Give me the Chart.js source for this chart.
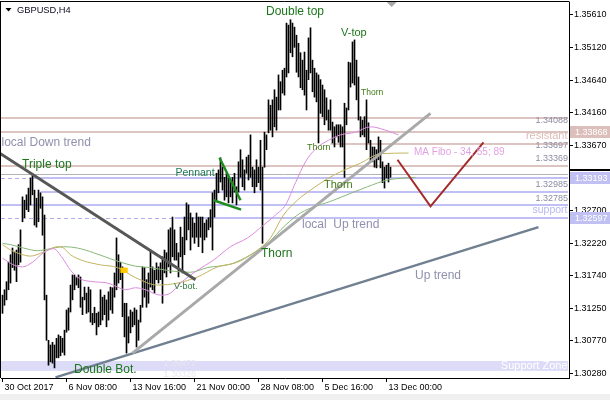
<!DOCTYPE html>
<html><head><meta charset="utf-8">
<script src="https://cdn.jsdelivr.net/npm/chart.js@4/dist/chart.umd.min.js"></script>
<style>html,body{margin:0;padding:0;background:#fff;}canvas{display:block;}</style>
</head><body>
<canvas id="c" width="610" height="400"></canvas>
<script>
// ---------- DATA (GBPUSD H4, bar index 0 = 30 Oct 2017 00:00) ----------
const highs = [1.3145,1.3153,1.3165,1.3194,1.3205,1.3215,1.3209,1.3212,1.3220,1.3242,
1.3291,1.3286,1.3294,1.3304,1.3319,1.3323,1.3301,1.3289,1.3301,1.3297,
1.3291,1.3264,1.3145,1.3078,1.3071,1.3075,1.3071,1.3081,1.3086,1.3084,
1.3081,1.3093,1.3123,1.3126,1.3160,1.3175,1.3175,1.3171,1.3175,1.3172,
1.3142,1.3157,1.3148,1.3157,1.3153,1.3118,1.3127,1.3118,1.3120,1.3153,
1.3142,1.3145,1.3138,1.3150,1.3157,1.3156,1.3178,1.3230,1.3205,1.3194,
1.3187,1.3133,1.3133,1.3113,1.3123,1.3120,1.3126,1.3123,1.3108,1.3130,
1.3187,1.3186,1.3168,1.3178,1.3212,1.3187,1.3182,1.3193,1.3187,1.3193,
1.3202,1.3212,1.3208,1.3242,1.3245,1.3261,1.3242,1.3222,1.3208,1.3246,
1.3231,1.3261,1.3282,1.3279,1.3267,1.3260,1.3252,1.3267,1.3261,1.3261,
1.3261,1.3252,1.3257,1.3260,1.3272,1.3297,1.3301,1.3326,1.3331,1.3349,
1.3335,1.3320,1.3326,1.3319,1.3316,1.3320,1.3326,1.3306,1.3343,1.3361,
1.3346,1.3331,1.3350,1.3353,1.3383,1.3335,1.3331,1.3346,1.3335,1.3375,
1.3335,1.3387,1.3383,1.3435,1.3427,1.3435,1.3450,1.3439,1.3472,1.3462,
1.3479,1.3482,1.3549,1.3546,1.3554,1.3549,1.3543,1.3531,1.3519,1.3505,
1.3494,1.3506,1.3479,1.3527,1.3542,1.3494,1.3482,1.3475,1.3472,1.3465,
1.3457,1.3450,1.3438,1.3420,1.3435,1.3402,1.3395,1.3398,1.3398,1.3398,
1.3395,1.3430,1.3423,1.3491,1.3490,1.3521,1.3524,1.3494,1.3469,1.3410,
1.3405,1.3410,1.3435,1.3401,1.3375,1.3365,1.3365,1.3361,1.3380,1.3375,
1.3343,1.3335,1.3338,1.3341,1.3335];
const lows = [1.3118,1.3130,1.3138,1.3153,1.3163,1.3186,1.3182,1.3165,1.3190,1.3194,
1.3254,1.3260,1.3272,1.3269,1.3279,1.3294,1.3249,1.3246,1.3254,1.3274,
1.3234,1.3138,1.3078,1.3041,1.3046,1.3044,1.3037,1.3052,1.3052,1.3055,
1.3060,1.3056,1.3090,1.3093,1.3120,1.3138,1.3153,1.3160,1.3156,1.3127,
1.3116,1.3138,1.3118,1.3120,1.3105,1.3101,1.3104,1.3086,1.3098,1.3101,
1.3108,1.3116,1.3098,1.3108,1.3123,1.3118,1.3142,1.3153,1.3163,1.3168,
1.3113,1.3083,1.3059,1.3074,1.3089,1.3098,1.3101,1.3068,1.3078,1.3105,
1.3127,1.3142,1.3127,1.3133,1.3157,1.3153,1.3148,1.3168,1.3163,1.3168,
1.3133,1.3178,1.3172,1.3187,1.3178,1.3202,1.3197,1.3197,1.3172,1.3202,
1.3178,1.3205,1.3227,1.3242,1.3212,1.3231,1.3222,1.3231,1.3217,1.3231,
1.3208,1.3227,1.3231,1.3242,1.3246,1.3212,1.3261,1.3286,1.3297,1.3313,
1.3301,1.3286,1.3291,1.3282,1.3291,1.3282,1.3298,1.3279,1.3298,1.3320,
1.3306,1.3301,1.3326,1.3316,1.3320,1.3306,1.3297,1.3306,1.3312,1.3301,
1.3222,1.3335,1.3361,1.3386,1.3390,1.3380,1.3395,1.3390,1.3420,1.3420,
1.3445,1.3442,1.3469,1.3475,1.3505,1.3499,1.3513,1.3476,1.3469,1.3453,
1.3450,1.3442,1.3420,1.3465,1.3475,1.3447,1.3439,1.3432,1.3371,1.3415,
1.3410,1.3398,1.3405,1.3390,1.3390,1.3371,1.3365,1.3380,1.3372,1.3365,
1.3365,1.3320,1.3398,1.3420,1.3454,1.3460,1.3457,1.3435,1.3405,1.3380,
1.3383,1.3380,1.3361,1.3371,1.3343,1.3343,1.3335,1.3334,1.3346,1.3334,
1.3312,1.3304,1.3319,1.3313,1.3320];

// Moving averages (MA Fibo 34, 55, 89): [bar index, price]
const ma34 = [[0,1.3200],[5.5,1.3190],[10,1.3187],[15,1.3194],[20.5,1.3208],[25.5,1.3214],[30,1.3200],[34,1.3182],[39,1.3169],[45.5,1.3165],[52.5,1.3163],[57.5,1.3157],[61.5,1.3153],[66.5,1.3156],[71.5,1.3153],[79,1.3145],[84,1.3148],[89,1.3163],[97.5,1.3182],[105.5,1.3197],[114,1.3217],[122.5,1.3230],[130.5,1.3249],[136.5,1.3264],[141.5,1.3279],[146.5,1.3312],[151.5,1.3343],[156.5,1.3362],[163,1.3375],[169,1.3383],[176.5,1.3387],[184,1.3395],[191.5,1.3390],[198,1.3383]];
const ma55 = [[0,1.3220],[4,1.3212],[9,1.3206],[14,1.3203],[20.5,1.3209],[27.5,1.3217],[30.5,1.3215],[34,1.3205],[40.5,1.3196],[49,1.3190],[57.5,1.3186],[66.5,1.3171],[77.5,1.3160],[87.5,1.3163],[97.5,1.3172],[107.5,1.3187],[117.5,1.3194],[127.5,1.3212],[134,1.3230],[140.5,1.3264],[147.5,1.3286],[154,1.3301],[165.5,1.3323],[179,1.3341],[189,1.3355],[203,1.3356]];
const ma89 = [[0,1.3222],[4,1.3220],[10.5,1.3215],[17.5,1.3211],[24,1.3214],[30.5,1.3217],[37.5,1.3215],[45.5,1.3208],[54,1.3199],[59,1.3194],[66.5,1.3188],[74,1.3186],[84,1.3181],[94,1.3179],[102.5,1.3186],[114,1.3191],[124,1.3205],[132.5,1.3222],[141.5,1.3249],[149,1.3267],[165.5,1.3286],[182.5,1.3306],[192.5,1.3316],[206.5,1.3320]];

// Trend lines and drawings: [bar index, price]
const downTrend = [[-1,1.3355],[96.5,1.3168]];
const localUpTrend = [[65,1.3059],[214,1.3415]];
const upTrend = [[26.5,1.3023],[268,1.3246]];
const pennantTop = [[108.5,1.3349],[119,1.3286]];
const pennantBottom = [[105.5,1.3286],[119.3,1.3272]];
const forecast = [[197.5,1.3346],[214,1.3277],[240.5,1.3372]];

// Horizontal levels
const resistLevels = [1.34088, 1.33868, 1.33697, 1.33369];
const supportLevels = [1.33193, 1.32985, 1.32785, 1.32597];
const supportZone = [1.30326, 1.30472];
const bidPrice = 1.3325;
const lastPrice = 1.3331;

// Axis ticks
const yTicks = [1.35610,1.35120,1.34640,1.34160,1.33670,1.33190,1.32700,1.32220,1.31740,1.31250,1.30770,1.30280];
const xTickIdx = [0,32,64,96,128,160,192];
const xLabels = ['30 Oct 2017','6 Nov 08:00','13 Nov 16:00','21 Nov 00:00','28 Nov 08:00','5 Dec 16:00','13 Dec 00:00'];

// ---------- STYLE / LAYOUT ----------
const FONT = '"Liberation Sans", Arial, sans-serif';
const GREEN = '#1c761c';
const OLIVE = '#3f7a12';
const TREND_TXT = '#9090ae';
const resistStart = [-1, -1, 164, -1];
const supportSolidStart = [14, 19, -1, 86];
const supportDashed = [true, false, false, true];
const axisBoxes = [[1.33868,'#dcbfba'],[1.33193,'#c0c0f2'],[1.32597,'#c0c0f2']];
const notes = [
  ['Double top', 131.75, 1.35655, GREEN, 12, 'left'],
  ['V-top', 169.25, 1.35343, GREEN, 11, 'left'],
  ['Thorn', 179.25, 1.34452, OLIVE, 8.5, 'left'],
  ['Thorn', 152.25, 1.33635, OLIVE, 9, 'left'],
  ['Thorn', 160.75, 1.33086, OLIVE, 11, 'left'],
  ['Thorn', 129.25, 1.32061, GREEN, 12, 'left'],
  ['Pennant', 86.5, 1.33264, '#1d7a55', 10.5, 'left'],
  ['Triple top', 9.75, 1.33383, GREEN, 12, 'left'],
  ['local Down trend', -0.5, 1.33709, TREND_TXT, 12, 'left'],
  ['local  Up trend', 149.75, 1.32492, TREND_TXT, 12, 'left'],
  ['Up trend', 206.25, 1.31742, TREND_TXT, 12, 'left'],
  ['V-bot.', 85.75, 1.31571, '#2f7a3a', 9, 'left'],
  ['Double Bot.', 35.75, 1.30339, GREEN, 12, 'left'],
  ['MA Fibo - 34, 55; 89', 205.75, 1.33576, '#e2a2e2', 10, 'left'],
  ['resistant', 282.5, 1.33818, '#dcbcb8', 11, 'right'],
  ['support', 282.5, 1.32715, '#b8b8f0', 10.5, 'right'],
  ['1.34088', 282.75, 1.34036, '#8c8ca2', 9, 'right'],
  ['1.33697', 282.75, 1.33669, '#8c8ca2', 9, 'right'],
  ['1.33369', 282.75, 1.33482, '#8c8ca2', 9, 'right'],
  ['1.32985', 282.75, 1.33090, '#8c8ca2', 9, 'right'],
  ['1.32785', 282.75, 1.32888, '#8c8ca2', 9, 'right'],
  ['Support Zone', 282.5, 1.30398, '#ffffff', 11, 'right'],
  ['1.30472', 96.75, 1.30428, '#e6e6ee', 9, 'right'],
  ['1.30326', 96.75, 1.30279, '#e6e6ee', 9, 'right']
];

const pts = a => a.map(([x, y]) => ({x, y}));
const bars = highs.map((h, i) => ({x: i, y: [lows[i], h]}));
const lineDs = (arr, color, w, order, smooth) => ({
  type: 'line', data: pts(arr), borderColor: color, borderWidth: w, pointRadius: 0,
  fill: false, order, cubicInterpolationMode: smooth ? 'monotone' : 'default', tension: 0
});

const annot = {
  id: 'annot',
  beforeDatasetsDraw(chart) {
    const {ctx, chartArea: a, scales: {x, y}} = chart;
    ctx.save();
    ctx.beginPath(); ctx.rect(a.left, a.top, a.width, a.height); ctx.clip();
    // support zone
    const zt = y.getPixelForValue(supportZone[1]), zb = y.getPixelForValue(supportZone[0]);
    ctx.fillStyle = '#dcdcf8';
    ctx.fillRect(a.left, zt, a.right - 1 - a.left, zb - zt);
    const hline = (v, x0, x1, color, w, dash) => {
      const py = Math.round(y.getPixelForValue(v)) + (w % 2 ? 0.5 : 0);
      ctx.strokeStyle = color; ctx.lineWidth = w; ctx.setLineDash(dash || []);
      ctx.beginPath(); ctx.moveTo(x0, py); ctx.lineTo(x1, py); ctx.stroke();
    };
    const R = a.right - 1;
    resistLevels.forEach((v, k) => {
      const x0 = resistStart[k] < 0 ? a.left : x.getPixelForValue(resistStart[k]);
      hline(v, x0, R, '#dcc4c0', 2);
    });
    hline(bidPrice, a.left, R, '#b4b4b4', 1);
    supportLevels.forEach((v, k) => {
      const s = supportSolidStart[k];
      const x0 = s < 0 ? a.left : x.getPixelForValue(s);
      if (supportDashed[k]) hline(v, a.left, x0, '#aeaef0', 1, [4, 3]);
      hline(v, x0, R, '#c0c0f4', 2);
    });
    ctx.setLineDash([]);
    ctx.restore();
  },
  afterDatasetsDraw(chart) {
    const {ctx, chartArea: a, scales: {x, y}} = chart;
    ctx.save();
    // yellow marker
    ctx.fillStyle = '#ffc800';
    const mx0 = x.getPixelForValue(58.9), mx1 = x.getPixelForValue(62.6);
    const my0 = y.getPixelForValue(1.3186), my1 = y.getPixelForValue(1.3178);
    ctx.fillRect(mx0, my0, mx1 - mx0, my1 - my0);
    // notes
    ctx.textBaseline = 'middle';
    notes.forEach(([t, i, p, c, s, al]) => {
      ctx.font = s + 'px ' + FONT;
      ctx.fillStyle = c; ctx.textAlign = al;
      ctx.fillText(t, x.getPixelForValue(i), y.getPixelForValue(p));
    });
    // chart shift marker
    const cx = x.getPixelForValue(194.6);
    ctx.fillStyle = '#a8a8a8';
    ctx.beginPath(); ctx.moveTo(cx - 5, a.top); ctx.lineTo(cx + 5, a.top); ctx.lineTo(cx, a.top + 5); ctx.closePath(); ctx.fill();
    ctx.restore();
  },
  afterDraw(chart) {
    const {ctx, chartArea: a, scales: {y}} = chart;
    ctx.save();
    // frame top/left
    ctx.strokeStyle = '#000'; ctx.lineWidth = 1;
    ctx.beginPath();
    ctx.moveTo(0, a.top - 0.5); ctx.lineTo(a.right + 0.5, a.top - 0.5);
    ctx.moveTo(0.5, a.top - 1); ctx.lineTo(0.5, a.bottom);
    ctx.stroke();
    // last price marker on axis
    ctx.fillStyle = '#000';
    const lp = Math.round(y.getPixelForValue(lastPrice));
    ctx.fillRect(a.right, lp - 1, 610 - a.right, 2);
    // axis price boxes
    ctx.font = '9px ' + FONT; ctx.textBaseline = 'middle'; ctx.textAlign = 'left';
    axisBoxes.forEach(([v, col]) => {
      const py = Math.round(y.getPixelForValue(v));
      ctx.fillStyle = col; ctx.fillRect(a.right + 1, py - 6, 610 - a.right - 1, 12);
      ctx.fillStyle = '#fff'; ctx.fillText(v.toFixed(5), a.right + 6, py + 0.5);
    });
    // header
    ctx.fillStyle = '#000';
    ctx.beginPath(); ctx.moveTo(5.5, 8); ctx.lineTo(11.5, 8); ctx.lineTo(8.5, 11.5); ctx.closePath(); ctx.fill();
    ctx.font = '9.3px ' + FONT; ctx.fillStyle = '#0a0a1e';
    ctx.fillText('GBPUSD,H4', 17, 10);
    // bottom strip
    ctx.fillStyle = '#f0f0f0';
    ctx.fillRect(0, 394, 610, 6);
    ctx.restore();
  }
};

new Chart(document.getElementById('c'), {
  type: 'bar',
  data: {
    datasets: [
      lineDs(forecast, '#a52a2a', 2, 1),
      lineDs(pennantTop, '#1e8c1e', 2.5, 1),
      lineDs(pennantBottom, '#1e8c1e', 2.5, 1),
      lineDs(downTrend, '#575757', 3, 2),
      lineDs(localUpTrend, '#a9a9a9', 3, 2),
      lineDs(upTrend, '#708090', 2.5, 2),
      lineDs(ma34, '#dc8cdc', 1, 3, true),
      lineDs(ma55, '#c3b45f', 1, 3, true),
      lineDs(ma89, '#88b878', 1, 3, true),
      {type: 'bar', data: bars, backgroundColor: '#000', borderWidth: 0, barThickness: 1, grouped: false, order: 4}
    ]
  },
  options: {
    responsive: false, animation: false, devicePixelRatio: 1, events: [],
    layout: {padding: {left: 1, top: 2, right: 0, bottom: 0}},
    plugins: {legend: {display: false}, tooltip: {enabled: false}},
    scales: {
      x: {
        type: 'linear', position: 'bottom', min: -0.75, max: 283.25, offset: false,
        grid: {display: true, drawOnChartArea: false, drawTicks: true, tickLength: 4, color: '#000', offset: false},
        border: {display: true, color: '#000'},
        ticks: {autoSkip: false, maxRotation: 0, minRotation: 0, align: 'start', labelOffset: 2, padding: 0,
          color: '#000', font: {family: FONT, size: 9},
          callback: v => { const k = xTickIdx.indexOf(v); return k >= 0 ? xLabels[k] : ''; }},
        afterBuildTicks: s => { s.ticks = xTickIdx.map(v => ({value: v})); },
        afterFit: s => { s.height = 22; s.paddingLeft = 0; s.paddingRight = 0; }
      },
      y: {
        type: 'linear', position: 'right', min: 1.30220, max: 1.35803,
        grid: {display: true, drawOnChartArea: false, drawTicks: true, tickLength: 4, color: '#000'},
        border: {display: true, color: '#000'},
        ticks: {autoSkip: false, padding: 1, color: '#000', font: {family: FONT, size: 9},
          callback: v => Number(v).toFixed(5)},
        afterBuildTicks: s => { s.ticks = yTicks.map(v => ({value: v})); },
        afterFit: s => { s.width = 41; s.paddingTop = 0; s.paddingBottom = 0; }
      }
    }
  },
  plugins: [annot]
});
</script>
</body></html>
